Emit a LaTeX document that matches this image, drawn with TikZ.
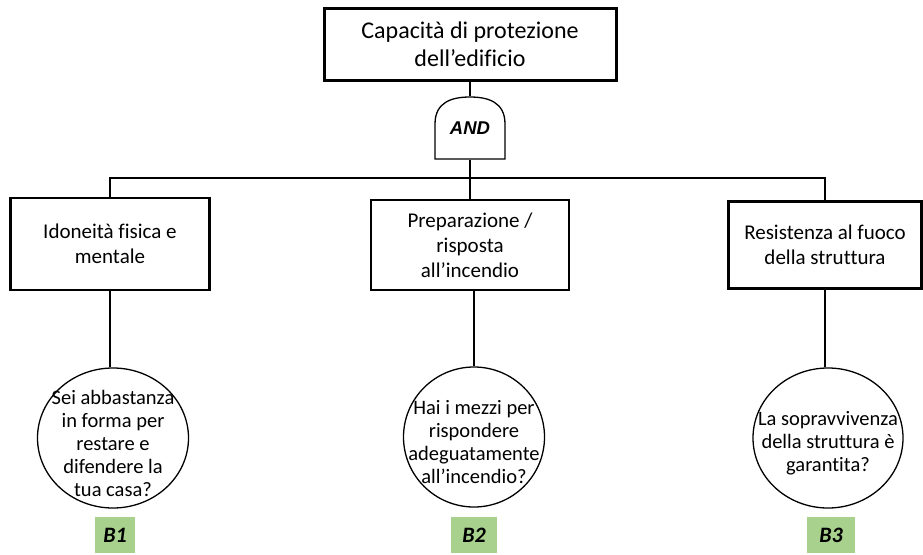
\documentclass[tikz,border=0pt]{standalone}
\usepackage{fontspec}
\setmainfont{Carlito}[Ligatures=NoCommon]
\newfontfamily\gatefont{Liberation Sans}
\usetikzlibrary{shapes.geometric}

\definecolor{bgreen}{HTML}{A9D18E}

\tikzset{
	topbox/.style={draw, line width=3pt, minimum width=292pt, minimum height=72pt,
		align=center, font=\fontsize{24}{28}\selectfont},
	evbox/.style={draw, line width=2.2pt, minimum width=198pt, minimum height=90pt,
		align=center, font=\fontsize{21}{25}\selectfont},
	qcircle/.style={draw, ellipse, line width=1.3pt, inner sep=0pt},
	qtext/.style={align=center, yshift=-5pt, font=\fontsize{20.5}{23}\selectfont},
	basic/.style={fill=bgreen, minimum height=36pt, inner sep=0pt,
		font=\fontsize{22}{24}\selectfont\bfseries\itshape},
}

\begin{document}
\begin{tikzpicture}[x=1pt, y=-1pt, line width=1.3pt]
\useasboundingbox (0,0) rectangle (923,554);

% top event and gate
\node[topbox] (top) at (470,44) {Capacità di protezione\\dell’edificio};
\node[minimum width=71pt, minimum height=62pt, inner sep=0pt,
	font=\gatefont\fontsize{18.5}{20}\selectfont\bfseries\itshape] (gate) at (470,128) {AND};
\draw (435,159) -- (435,124) .. controls (435,102) and (452,97) .. (470,97)
	.. controls (488,97) and (505,102) .. (505,124) -- (505,159) -- cycle;
\coordinate (bus) at (470,178);

% intermediate events
\node[evbox, minimum width=199pt, minimum height=92pt] (e1) at (110,244) {Idoneità fisica e\\mentale};
\node[evbox] (e2) at (470,245) {Preparazione /\\risposta\\all’incendio};
\node[evbox, minimum width=193pt, minimum height=87pt] (e3) at (825,245) {Resistenza al fuoco\\della struttura};

% questions
\node[qcircle, minimum width=151pt, minimum height=140pt] (q1) at (113,438) {};
\node[qtext] at (q1) {Sei abbastanza\\in forma per\\restare e\\difendere la\\tua casa?};
\node[qcircle, minimum width=141pt, minimum height=140pt] (q2) at (474,437) {};
\node[qtext] at (q2) {Hai i mezzi per\\rispondere\\adeguatamente\\all’incendio?};
\node[qcircle, minimum width=150pt, minimum height=140pt] (q3) at (828,438) {};
\node[qtext] at (q3) {La sopravvivenza\\della struttura è\\garantita?};

% basic events
\node[basic, minimum width=40pt] (b1) at (115,535) {B1};
\node[basic, minimum width=46pt] (b2) at (474,535) {B2};
\node[basic, minimum width=48pt] (b3) at (831,535) {B3};

% connectors
\draw (top.south) -- (gate.north);
\draw (gate.south) -- (bus);
\draw (e1.north) |- (bus) -| (e3.north);
\draw (bus) -- (e2.north);
\draw (e1.south) -- (e1.south |- q1.north);
\draw (e2.south -| q2.north) -- (q2.north);
\draw (e3.south) -- (e3.south |- q3.north);
\end{tikzpicture}
\end{document}
